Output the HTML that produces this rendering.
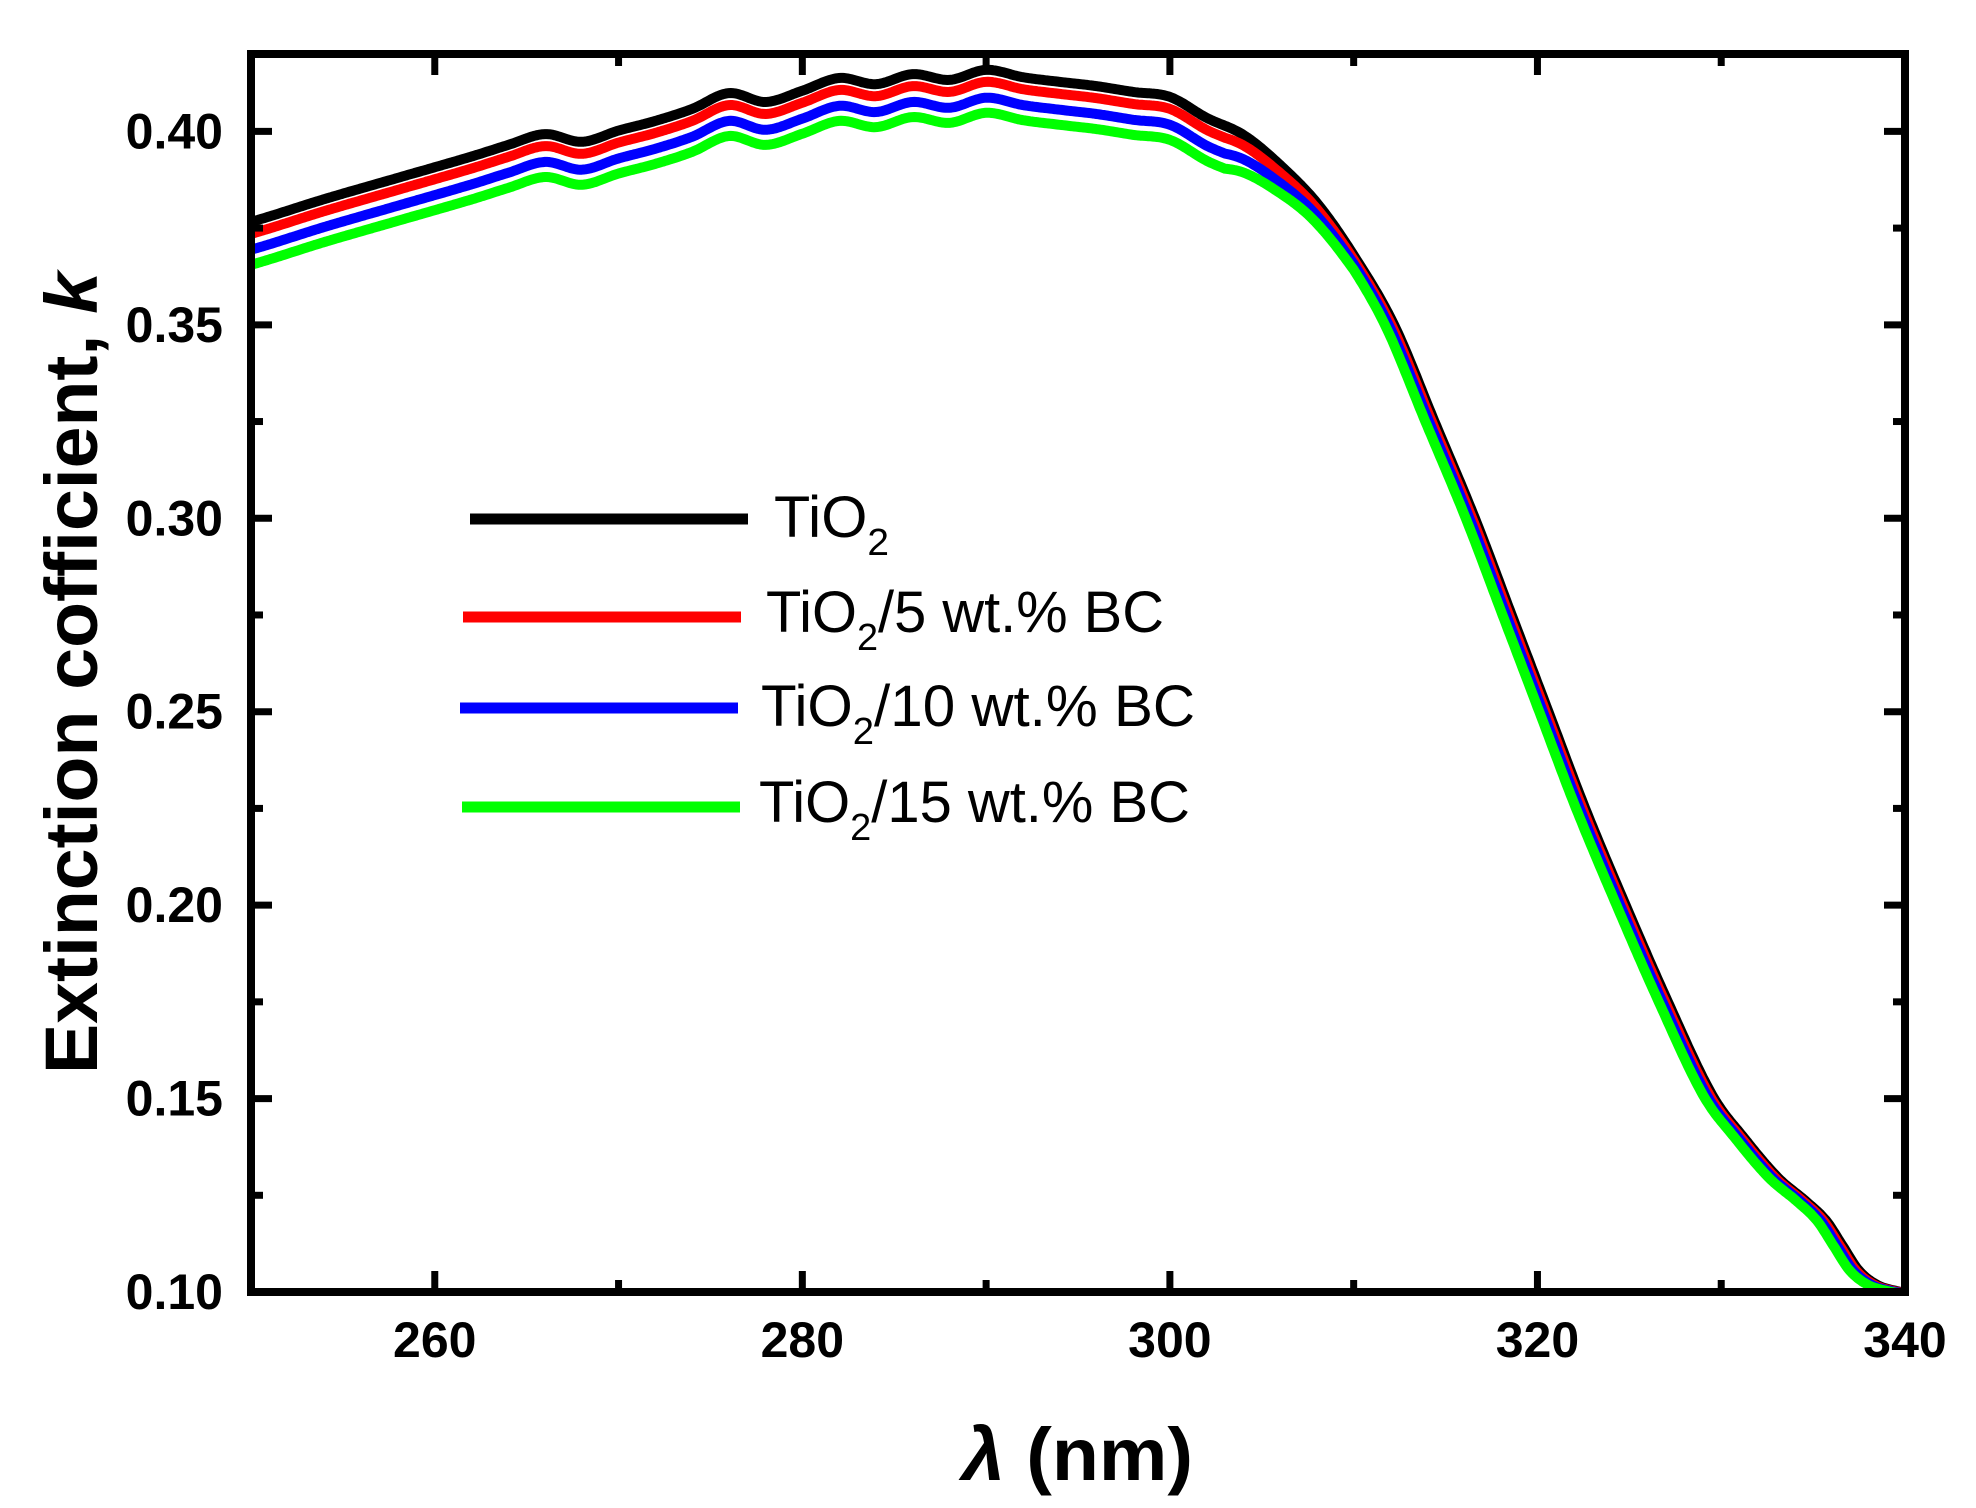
<!DOCTYPE html>
<html><head><meta charset="utf-8"><style>
html,body{margin:0;padding:0;background:#fff}
svg{display:block}
</style></head><body>
<svg id="s" width="1976" height="1508" viewBox="0 0 1976 1508" xmlns="http://www.w3.org/2000/svg">
<defs><clipPath id="c"><rect x="251" y="54" width="1654" height="1238"/></clipPath></defs>
<rect width="1976" height="1508" fill="#fff"/>
<g id="curves" clip-path="url(#c)" fill="none" stroke-width="10" stroke-linejoin="round" stroke-linecap="round"></g>
<g id="ticks" stroke="#000" stroke-width="7"></g>
<rect x="251" y="54" width="1654" height="1238" fill="none" stroke="#000" stroke-width="8"/>
<g id="labels" font-family="Liberation Sans, sans-serif" font-weight="bold" font-size="50" fill="#000"></g>
<text x="97" y="673" transform="rotate(-90 97 673)" text-anchor="middle" font-family="Liberation Sans, sans-serif" font-weight="bold" font-size="74" textLength="802" lengthAdjust="spacingAndGlyphs">Extinction cofficient, <tspan font-style="italic">k</tspan></text>
<text x="962" y="1480" font-family="Liberation Sans, DejaVu Sans, sans-serif" font-weight="bold" font-size="74" textLength="231" lengthAdjust="spacingAndGlyphs"><tspan font-style="italic">λ</tspan>  (nm)</text>
<g font-family="Liberation Sans, sans-serif" font-size="58" fill="#000">
<line x1="470" y1="519" x2="748" y2="519" stroke="#000" stroke-width="11"/>
<text x="774" y="537" textLength="115" lengthAdjust="spacingAndGlyphs">TiO<tspan font-size="38" dy="18">2</tspan></text>
<line x1="463" y1="617" x2="741" y2="617" stroke="#f00" stroke-width="11"/>
<text x="766" y="632" textLength="398" lengthAdjust="spacingAndGlyphs">TiO<tspan font-size="38" dy="18">2</tspan><tspan dy="-18">/5 wt.% BC</tspan></text>
<line x1="460" y1="708" x2="738" y2="708" stroke="#00f" stroke-width="11"/>
<text x="761" y="726" textLength="434" lengthAdjust="spacingAndGlyphs">TiO<tspan font-size="38" dy="18">2</tspan><tspan dy="-18">/10 wt.% BC</tspan></text>
<line x1="462" y1="807" x2="740" y2="807" stroke="#0f0" stroke-width="11"/>
<text x="759" y="822" textLength="431" lengthAdjust="spacingAndGlyphs">TiO<tspan font-size="38" dy="18">2</tspan><tspan dy="-18">/15 wt.% BC</tspan></text>
</g>
</svg>
<script>
(function(){
var NS="http://www.w3.org/2000/svg";
function X(v){return 251+(v-250)*1654/90;}
function Y(v){return 1292-(v-0.1)*1238/0.32;}
var ticks=document.getElementById('ticks'),labels=document.getElementById('labels');
function ln(x1,y1,x2,y2){var l=document.createElementNS(NS,'line');l.setAttribute('x1',x1);l.setAttribute('y1',y1);l.setAttribute('x2',x2);l.setAttribute('y2',y2);ticks.appendChild(l);}
function tx(x,y,s,a){var t=document.createElementNS(NS,'text');t.setAttribute('x',x);t.setAttribute('y',y);t.setAttribute('text-anchor',a);t.textContent=s;labels.appendChild(t);}
for(var v=250;v<=340;v+=10){var x=X(v),L=((v/10)%2==0)?21:12;
 ln(x,1292,x,1292-L);ln(x,54,x,54+L);
 if((v/10)%2==0&&v>250) tx(x,1357,String(v),'middle');}
for(var i=0;i<=12;i++){var k=0.1+i*0.025,y=Y(k),maj=(i%2==0),L=maj?21:12;
 ln(251,y,251+L,y);ln(1905,y,1905-L,y);
 if(maj) tx(223,y+17,k.toFixed(2),'end');}
var d=[[248,0.3745],[250,0.3766],[254,0.3825],[258,0.388],[262,0.3935],[264,0.3965],[266,0.3993],[268,0.3973],[270,0.4002],[272,0.4027],[274,0.4058],[276,0.4099],[278,0.4076],[280,0.4105],[282,0.4138],[284,0.4122],[286,0.4148],[288,0.4133],[290,0.4159],[292,0.414],[294,0.4128],[296,0.4117],[298,0.4102],[300,0.4089],[302,0.4035],[304,0.3991],[306,0.3913],[308,0.3815],[310,0.368],[312.2,0.35],[314.4,0.325],[316.6,0.30],[318.6,0.275],[320.6,0.25],[322.6,0.225],[324.8,0.20],[327.1,0.175],[329.5,0.151],[331.3,0.1395],[333.1,0.1295],[334.6,0.1235],[335.7,0.1185],[336.6,0.112],[337.5,0.1055],[338.5,0.1018],[339.5,0.1003],[340.5,0.0995],[342,0.099]];
function f(x){var n=d.length;if(x<=d[0][0])return d[0][1];if(x>=d[n-1][0])return d[n-1][1];
 var i=0;while(d[i+1][0]<x)i++;
 var p0=d[Math.max(i-1,0)],p1=d[i],p2=d[i+1],p3=d[Math.min(i+2,n-1)];
 var h=p2[0]-p1[0],t=(x-p1[0])/h;
 var m1=(p2[1]-p0[1])/(p2[0]-p0[0])*h,m2=(p3[1]-p1[1])/(p3[0]-p1[0])*h;
 var t2=t*t,t3=t2*t;
 return (2*t3-3*t2+1)*p1[1]+(t3-2*t2+t)*m1+(-2*t3+3*t2)*p2[1]+(t3-t2)*m2;}
var series=[['#000',0,0],['#f00',-0.0031,0.15],['#00f',-0.0072,0.3],['#0f0',-0.0111,0.5]];
var g=document.getElementById('curves');
series.forEach(function(s){
 var pts=[];
 for(var x=249;x<=341;x+=0.1){
  var w=x<303?1:(x>310?0:(310-x)/7);
  var sh=s[2]*(1-w);
  var k=f(x+sh)+s[1]*w;
  pts.push(X(x).toFixed(1)+','+Y(k).toFixed(1));}
 var p=document.createElementNS(NS,'polyline');p.setAttribute('points',pts.join(' '));p.setAttribute('stroke',s[0]);g.appendChild(p);});
})();
</script>
</body></html>
